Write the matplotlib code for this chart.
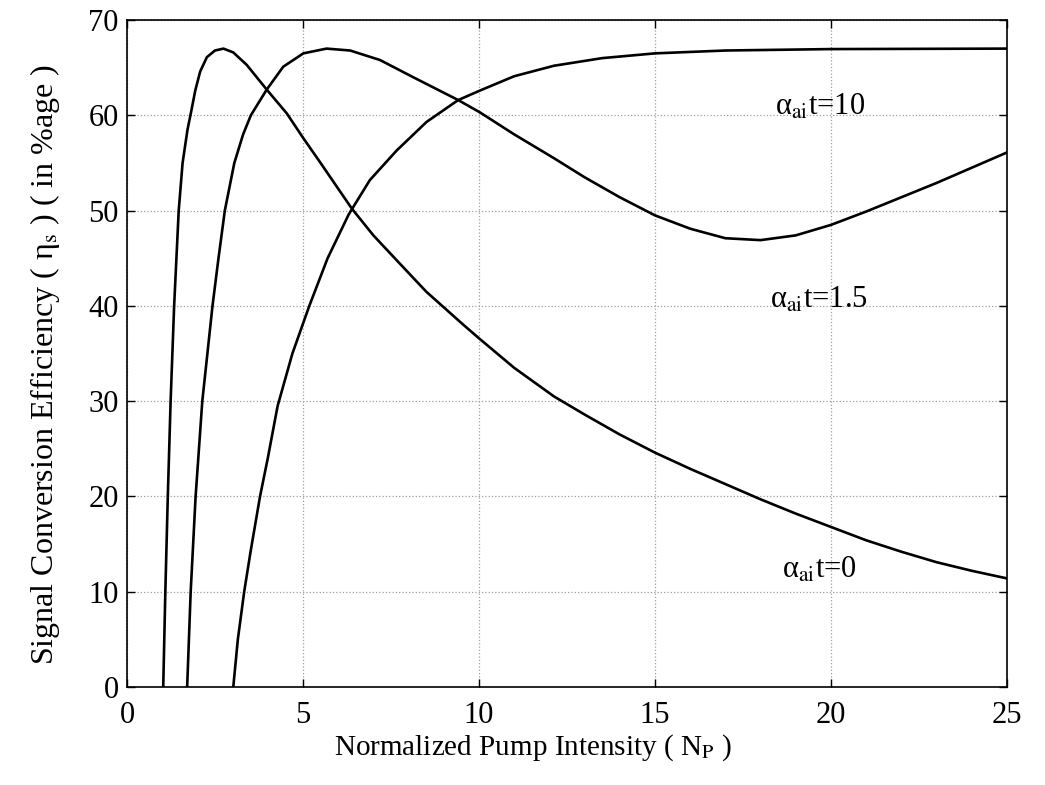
import numpy as np
import matplotlib.pyplot as plt

plt.rcParams['font.family'] = ['Liberation Serif', 'DejaVu Serif']
plt.rcParams['mathtext.fontset'] = 'stix'

# alpha_ai t = 0
x_a0 = [1.03, 1.09, 1.16, 1.24, 1.34, 1.47, 1.58, 1.72, 1.83, 1.94, 2.08, 2.27,
        2.50, 2.74, 3.02, 3.40, 3.97, 4.54, 5.01, 5.5, 6.0, 6.39, 7.0, 7.71,
        8.5, 9.5, 10.0, 11.0, 12.13, 13.0, 14.0, 15.0, 16.0, 17.0, 18.0, 19.0,
        20.0, 21.0, 22.0, 23.0, 24.0, 25.0]
y_a0 = [0, 10, 20, 30, 40, 50, 55, 58.5, 60.5, 62.6, 64.6, 66.1,
        66.8, 67.0, 66.6, 65.3, 62.7, 60.2, 57.6, 55.0, 52.3, 50.2, 47.4, 44.6,
        41.5, 38.2, 36.6, 33.5, 30.5, 28.6, 26.5, 24.6, 22.9, 21.3, 19.7, 18.2,
        16.8, 15.4, 14.2, 13.1, 12.2, 11.4]

# alpha_ai t = 1.5
x_a15 = [1.71, 1.81, 1.95, 2.14, 2.43, 2.60, 2.78, 3.05, 3.30, 3.52, 3.97, 4.44,
         5.01, 5.67, 6.34, 7.19, 8.13, 9.41, 10.03, 11.0, 12.13, 13.0, 14.0,
         15.0, 16.0, 17.0, 18.0, 19.0, 20.0, 21.0, 22.0, 23.0, 24.0, 25.0]
y_a15 = [0, 10, 20, 30, 40, 45, 50, 55, 58, 60, 62.7, 65.1,
         66.5, 67.0, 66.8, 65.8, 64.0, 61.6, 60.3, 58.0, 55.5, 53.5, 51.4,
         49.5, 48.1, 47.1, 46.9, 47.4, 48.5, 49.9, 51.4, 52.9, 54.5, 56.1]

# alpha_ai t = 10
x_a10 = [3.02, 3.15, 3.33, 3.52, 3.78, 4.0, 4.28, 4.7, 5.18, 5.7, 6.3, 6.9,
         7.66, 8.51, 9.41, 10.03, 11.0, 12.13, 13.5, 15.0, 17.0, 20.0, 25.0]
y_a10 = [0, 5, 10, 14.4, 20, 24, 29.5, 35, 40, 45, 49.6, 53.2,
         56.3, 59.3, 61.6, 62.6, 64.1, 65.2, 66.0, 66.5, 66.8, 66.95, 67.0]

fig = plt.figure(figsize=(10.45, 7.85), dpi=100)
ax = fig.add_axes([0.1215, 0.1248, 0.8421, 0.8497])

for xs, ys in [(x_a0, y_a0), (x_a15, y_a15), (x_a10, y_a10)]:
    ax.plot(xs, ys, color='black', linewidth=1.9, solid_joinstyle='round')

ax.set_xlim(0, 25)
ax.set_ylim(0, 70)
ax.set_xticks(np.arange(0, 26, 5))
ax.set_yticks(np.arange(0, 71, 10))
ax.tick_params(direction='in', top=True, right=True, length=6, width=1,
               labelsize=22)
ax.tick_params(axis='x', pad=10)
ax.tick_params(axis='y', pad=6)
ax.grid(True, linestyle=':', color='#a0a0a0', linewidth=0.9)
for s in ax.spines.values():
    s.set_linewidth(1.2)

ax.set_xlabel(r'Normalized Pump Intensity ( N$_{\rm P}$ )', fontsize=21)
ax.set_ylabel(r'Signal Conversion Efficiency ( η$_{\rm s}$ ) ( in %age )',
              fontsize=23)
ax.xaxis.set_label_coords(0.461, -0.068)
ax.yaxis.set_label_coords(-0.074, 0.483)

ax.text(18.4, 60.8, r'α$_{\rm ai}$t=10', fontsize=22, va='center')
ax.text(18.27, 40.6, r'α$_{\rm ai}$t=1.5', fontsize=22, va='center')
ax.text(18.6, 12.3, r'α$_{\rm ai}$t=0', fontsize=22, va='center')

fig.savefig('out.png', dpi=100)
